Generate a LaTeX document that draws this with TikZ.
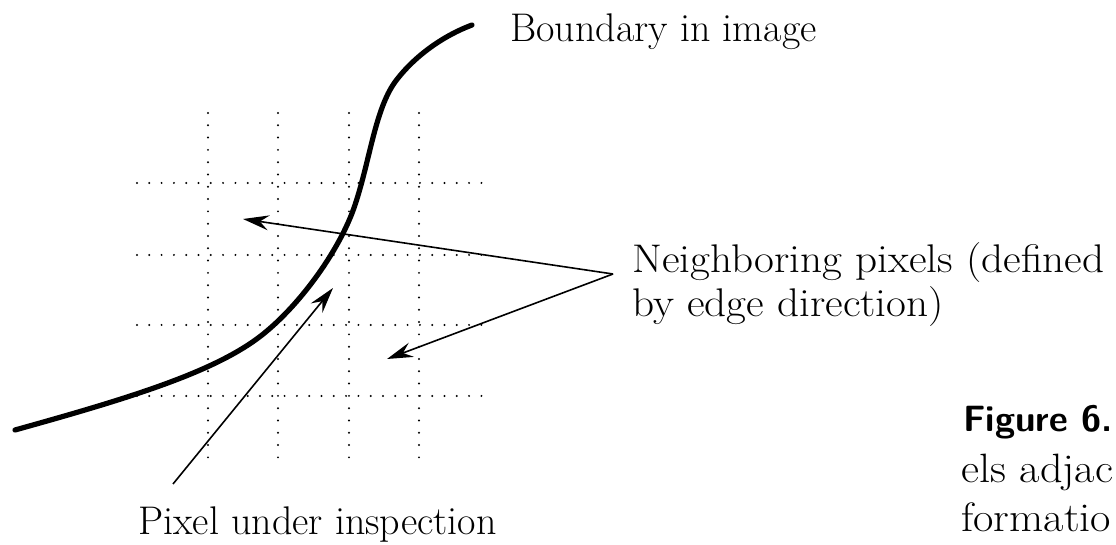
\documentclass[tikz,border=0pt]{standalone}
\usepackage{fontspec}
\setmainfont{Latin Modern Roman}
\setsansfont{Latin Modern Sans}
\usetikzlibrary{arrows.meta}
\begin{document}
\begin{tikzpicture}[x=0.5pt,y=-0.5pt,
  lbl/.style={inner sep=0pt, anchor=base west, font=\fontsize{20}{24}\selectfont},
  caplbl/.style={inner sep=0pt, anchor=base west, font=\fontsize{20.5}{25}\selectfont},
  figlbl/.style={inner sep=0pt, anchor=base west, font=\fontsize{18.3}{22}\selectfont\sffamily\bfseries},
  gridline/.style={line width=1.1pt, dash pattern=on 0pt off 6.15pt, line cap=round},
  boundary/.style={line width=2.6pt, line cap=round},
  pointer/.style={line width=0.8pt, -{Stealth[length=13pt,width=7.5pt,inset=4.5pt]}}
]
\useasboundingbox (0,0) rectangle (1116,545);
\fill[white] (0,0) rectangle (1116,545);
% dotted pixel grid
\foreach \x in {208,278,349,419} \draw[gridline] (\x,113) -- (\x,460);
\foreach \y in {183,255,325,396} \draw[gridline] (137,\y) -- (487,\y);
% boundary curve
\coordinate (b0) at (15,430);
\coordinate (b1) at (262,335);
\coordinate (b2) at (355,205);
\coordinate (b3) at (395,82);
\coordinate (b4) at (472,25);
\draw[boundary] (b0) .. controls (130,398) and (215,372) .. (b1)
  .. controls (300,305) and (340,250) .. (b2)
  .. controls (370,160) and (375,110) .. (b3)
  .. controls (415,55) and (445,35) .. (b4);
% labels
\node[lbl] (boundlbl) at (510,42) {Boundary in image};
\node[lbl] (nbl1) at (632,273) {\scalebox{1.08}[1]{Neighboring pixels (defined}};
\node[lbl] (nbl2) at (632,317) {\scalebox{1.08}[1]{by edge direction)}};
\node[lbl] (pxlbl) at (138,535) {Pixel under inspection};
\node[figlbl] (fig) at (963,432) {Figure 6.};
\node[caplbl] (cap1) at (961,483) {\scalebox{1.08}[1]{els adjac}};
\node[caplbl] (cap2) at (961,532) {\scalebox{1.08}[1]{formatio}};
% connector end points
\coordinate (apex) at (613,274);
\coordinate (nbA) at (243,219);
\coordinate (nbB) at (387,359);
\coordinate (pxTail) at (173,484);
\coordinate (pxTip) at (333,288);
\draw[pointer] (apex) -- (nbA);
\draw[pointer] (apex) -- (nbB);
\draw[pointer] (pxTail) -- (pxTip);
\end{tikzpicture}
\end{document}
